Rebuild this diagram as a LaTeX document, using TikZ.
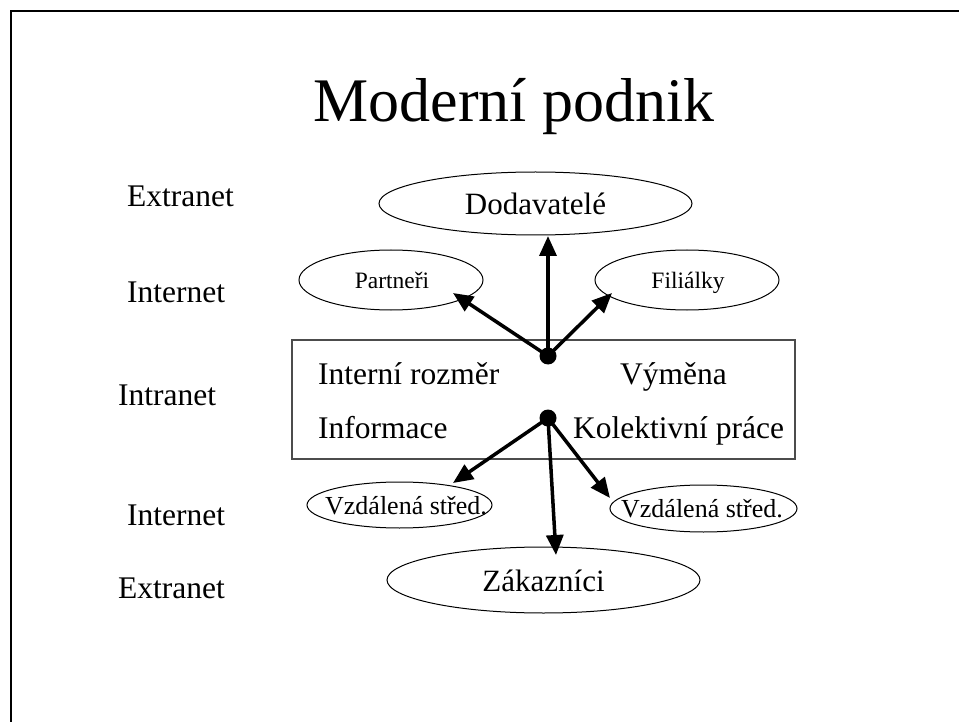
\documentclass[tikz,border=0pt]{standalone}
\usepackage{fontspec}
\setmainfont{Liberation Serif}
\usetikzlibrary{shapes.geometric,arrows.meta}
\begin{document}
\begin{tikzpicture}[x=1pt,y=-1pt,
  oval/.style={draw=black,line width=1pt,ellipse,inner sep=0pt},
  txt/.style={inner sep=0pt,anchor=base},
  lbl/.style={inner sep=0pt,anchor=base west,font=\fontsize{31.5}{36}\selectfont},
  big/.style={font=\fontsize{31}{36}\selectfont},
  small/.style={font=\fontsize{23.5}{28}\selectfont},
  mid/.style={font=\fontsize{26}{30}\selectfont},
  dotn/.style={circle,fill=black,inner sep=0pt,minimum size=17pt},
  arr/.style={line width=3.5pt,-{Triangle[length=20pt,width=17pt]}},
  ln/.style={line width=3.5pt}
]
\useasboundingbox (0,0) rectangle (959,722);
% frame
\draw[line width=2pt] (11,722) -- (11,11) -- (959,11);
% title
\node[txt,font=\fontsize{62}{70}\selectfont] (title) at (514,122) {Moderní podnik};
% left labels
\node[lbl] (ext1) at (127,207) {Extranet};
\node[lbl] (int1) at (127,302) {Internet};
\node[lbl] (intra) at (118,405) {Intranet};
\node[lbl] (int2) at (127,525) {Internet};
\node[lbl] (ext2) at (118,598) {Extranet};
% central box
\node[draw=black!70,line width=1.2pt,minimum width=503pt,minimum height=119pt,inner sep=0pt] (box) at (543.5,399.5) {};
\node[lbl] (t1) at (318,384) {Interní rozměr};
\node[lbl] (t2) at (620,384) {Výměna};
\node[lbl] (t3) at (318,438) {Informace};
\node[lbl] (t4) at (573,438) {Kolektivní práce};
% ellipses
\node[oval,minimum width=313pt,minimum height=63pt] (dod) at (535.5,203.5) {};
\node[txt,big] (dodt) at (535.5,215) {Dodavatelé};
\node[oval,minimum width=184pt,minimum height=60pt] (par) at (391,280) {};
\node[txt,small] (part) at (392,288) {Partneři};
\node[oval,minimum width=184pt,minimum height=60pt] (fil) at (687,280) {};
\node[txt,small] (filt) at (688,288) {Filiálky};
\node[oval,minimum width=185pt,minimum height=46pt] (vz1) at (399.5,505) {};
\node[txt,mid] (vz1t) at (406,514) {Vzdálená střed.};
\node[oval,minimum width=187pt,minimum height=47pt] (vz2) at (703.5,508.5) {};
\node[txt,mid] (vz2t) at (702,517) {Vzdálená střed.};
\node[oval,minimum width=313pt,minimum height=66pt] (zak) at (543.5,580) {};
\node[txt,big] (zakt) at (543.5,591) {Zákazníci};
% dots
\node[dotn] (du) at (548,356) {};
\node[dotn] (dl) at (548,418) {};
% arrow tips
\coordinate (tdod) at (548,236);
\coordinate (tpar) at (453,293);
\coordinate (tfil) at (612,293);
\coordinate (tvz1) at (453,483);
\coordinate (tzak) at (556,555);
\coordinate (tvz2) at (610,498);
\draw[arr] (du.center) -- (tdod);
\draw[arr] (du.center) -- (tpar);
\draw[arr] (du.center) -- (tfil);
\draw[arr] (dl.center) -- (tvz1);
\draw[arr] (dl.center) -- (tzak);
\draw[arr] (dl.center) -- (tvz2);
\end{tikzpicture}
\end{document}
